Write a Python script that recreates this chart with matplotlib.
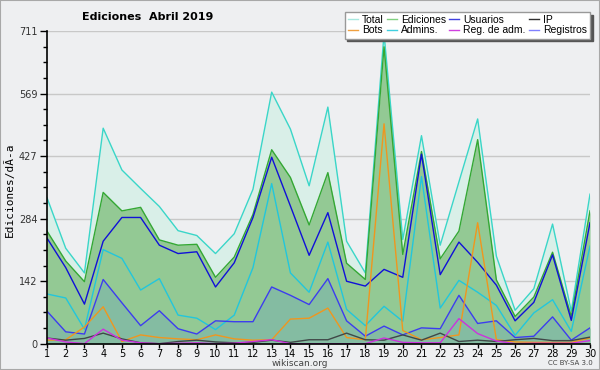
import matplotlib
matplotlib.use("Agg")
import matplotlib.pyplot as plt
from matplotlib.patches import Rectangle
from matplotlib.lines import Line2D
import numpy as np

days = list(range(1, 31))
total = [332, 217, 161, 490, 395, 353, 312, 257, 246, 205, 250, 351, 572, 488, 359, 538, 233, 161,
         705, 237, 473, 224, 368, 511, 199, 76, 125, 272, 74, 340]
ediciones = [256, 188, 141, 344, 302, 310, 236, 224, 226, 151, 197, 294, 441, 378, 270, 389, 183, 146,
             675, 203, 437, 193, 256, 464, 145, 62, 106, 208, 62, 302]
usuarios = [240, 173, 90, 233, 287, 287, 224, 205, 209, 129, 184, 287, 424, 313, 201, 298, 142, 131,
            169, 151, 431, 157, 231, 185, 133, 52, 94, 202, 53, 275]
ip = [13, 8, 12, 24, 11, 2, 0, 5, 8, 4, 2, 3, 8, 3, 9, 9, 24, 9,
      8, 20, 8, 24, 5, 8, 5, 9, 12, 7, 7, 15]
bots = [8, 9, 38, 84, 5, 20, 14, 11, 9, 20, 11, 8, 9, 56, 58, 81, 14, 9,
        500, 30, 9, 14, 20, 275, 9, 4, 3, 3, 3, 13]
admins = [113, 104, 33, 214, 194, 122, 148, 65, 58, 32, 65, 173, 364, 161, 117, 231, 78, 41,
          85, 51, 380, 81, 144, 117, 87, 19, 70, 100, 28, 222]
reg_adm = [13, 4, 0, 33, 8, 2, 0, 1, 2, 0, 1, 5, 9, 0, 0, 0, 0, 0,
           13, 3, 2, 2, 57, 23, 6, 0, 1, 1, 1, 7]
registros = [74, 27, 22, 146, 93, 41, 75, 34, 22, 52, 50, 50, 129, 110, 89, 148, 52, 17,
             40, 20, 36, 34, 110, 46, 52, 14, 17, 61, 8, 36]

ymax = 711
yticks = [0, 142.2, 284.4, 426.6, 568.8, 711]
ytick_labels = ["0", "142", "284", "427", "569", "711"]
legend_labels = ["Total", "Bots", "Ediciones", "Admins.", "Usuarios", "Reg. de adm.", "IP", "Registros"]

bg = "#eeeff1"
fig = plt.figure(figsize=(6, 3.7), dpi=100, facecolor=bg)
fig.patches.append(Rectangle((0, 0), 1, 1, transform=fig.transFigure, fill=False,
                             edgecolor="#a8a8a8", linewidth=1.5, zorder=-1))

ax = fig.add_axes([47 / 600, 1 - 343.7 / 370, 543 / 600, 312.7 / 370])
ax.set_facecolor(bg)

ax.fill_between(days, 0, total, color="#d9efe8", zorder=1, linewidth=0)
ax.fill_between(days, 0, ediciones, color="#93c994", zorder=2, linewidth=0)
ax.fill_between(days, 0, registros, color="#84bca2", zorder=3, linewidth=0)

lw = 1.0
ax.plot(days, total, color="#3ad6c8", lw=lw, zorder=4)
ax.plot(days, ediciones, color="#34a834", lw=lw, zorder=5)
ax.plot(days, admins, color="#22c6dc", lw=lw, zorder=5)
ax.plot(days, registros, color="#3c3cf0", lw=lw, zorder=6)
ax.plot(days, usuarios, color="#1010d8", lw=lw, zorder=6)
ax.plot(days, bots, color="#f0961e", lw=lw, zorder=7)
ax.plot(days, ip, color="#404848", lw=lw, zorder=7)
ax.plot(days, reg_adm, color="#cc33dd", lw=lw, zorder=8)

ax.set_xlim(1, 30)
ax.set_ylim(0, ymax)
ax.set_xticks(days)
ax.set_xticklabels([str(d) for d in days], fontsize=7)
ax.set_yticks(yticks)
ax.set_yticklabels(ytick_labels, fontsize=7, color="#333333")
ax.set_yticks(np.arange(0, ymax + 1, 711 / 20), minor=True)
ax.tick_params(axis="y", which="major", length=5, width=1, pad=2)
ax.tick_params(axis="y", which="minor", length=3, width=1)
ax.tick_params(axis="x", which="major", length=3, width=1, pad=0.5)
ax.grid(axis="y", which="major", color="#c8c8c8", lw=1, zorder=0)
ax.set_axisbelow(True)
for s in ["top", "right"]:
    ax.spines[s].set_visible(False)
for s in ["left", "bottom"]:
    ax.spines[s].set_linewidth(1.2)
    ax.spines[s].set_zorder(10)

fig.text(148 / 600, 1 - 17 / 370, "Ediciones  Abril 2019", ha="center", va="center",
         fontsize=8, fontweight="bold")
fig.text(9 / 600, 1 - 190 / 370, "Ediciones/dÃ-a", rotation=90, ha="center", va="center",
         fontsize=8, family="DejaVu Sans Mono")
fig.text(300 / 600, 1 - 363 / 370, "wikiscan.org", ha="center", va="center",
         fontsize=6.5, color="#444444")
fig.text(570 / 600, 1 - 363 / 370, "CC BY-SA 3.0", ha="center", va="center",
         fontsize=5, color="#444444")

h = lambda c: Line2D([], [], color=c, lw=1)
handles = [h("#a8e8e0"), h("#f0a040"), h("#80d080"), h("#40d0e0"),
           h("#4040e0"), h("#d040e0"), h("#303030"), h("#8080ff")]
leg = fig.legend(handles, legend_labels, ncol=4, loc="upper right", bbox_to_anchor=(0.983, 0.968),
                 bbox_transform=fig.transFigure, frameon=True, fancybox=False,
                 prop={"family": "Liberation Sans", "size": 7.5},
                 shadow={"color": "#555555", "alpha": 1}, handlelength=1.0, handletextpad=0.35,
                 columnspacing=0.3, labelspacing=0.05, borderpad=0.3, borderaxespad=0)
leg.get_frame().set_edgecolor("#999999")
leg.get_frame().set_linewidth(1)
leg.set_zorder(20)

fig.savefig("out.png", dpi=100, facecolor=bg)
